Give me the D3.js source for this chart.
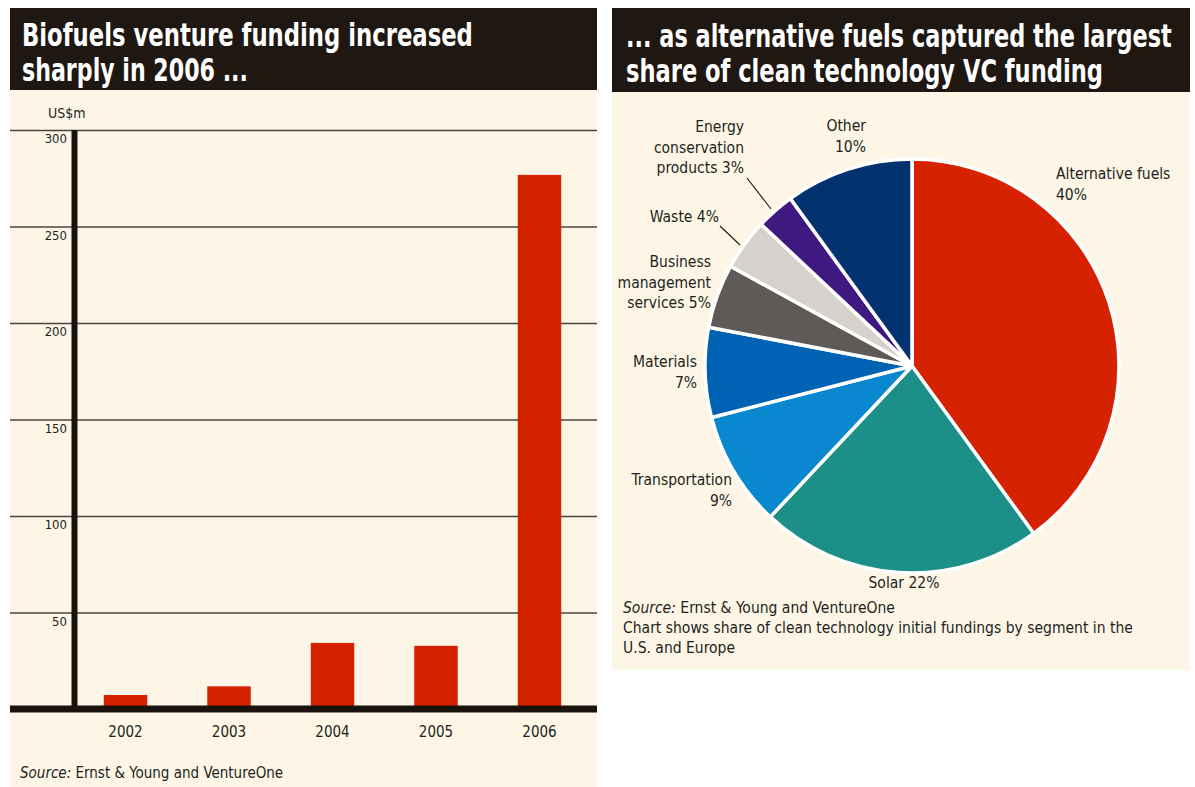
<!DOCTYPE html>
<html><head><meta charset="utf-8">
<script src="https://cdn.jsdelivr.net/npm/d3@7"></script>
<style>
html,body{margin:0;padding:0;background:#fff;}
svg{display:block;}
text{font-family:"Liberation Sans Narrow","DejaVu Sans Condensed","Arial Narrow",sans-serif;fill:#231f1c;}
</style></head>
<body>
<svg id="chart" width="1195" height="787"></svg>
<script>
// ---------- data ----------
const years = ["2002","2003","2004","2005","2006"];
const funding = [7.5, 12, 34.5, 33, 277];
const yTicks = [50, 100, 150, 200, 250, 300];

const segments = ["Alternative fuels","Solar","Transportation","Materials","Business management services","Waste","Energy conservation products","Other"];
const shares = [40, 22, 9, 7, 5, 4, 3, 10];
const segColors = ["#d62200","#1b8f88","#0a88cf","#0062b2","#5f5957","#d7d1cd","#3f1880","#033271"];

const leftTitle = ["Biofuels venture funding increased","sharply in 2006 ..."];
const rightTitle = ["... as alternative fuels captured the largest","share of clean technology VC funding"];

const svg = d3.select("#chart");
const cream = "#fdf6e7", dark = "#1f1712";

// fits a title line horizontally to a target width by scaling its group
function titleLine(text, x, yb, targetW){
  const g = svg.append("g");
  const t = g.append("text").attr("x",0).attr("y",0).text(text)
    .attr("font-size",32).attr("font-weight","bold").style("fill","#fff");
  const w = t.node().getComputedTextLength();
  const sx = Math.min(1, targetW / w);
  g.attr("transform",`translate(${x},${yb}) scale(${sx},1)`);
}

// ---------- left panel ----------
svg.append("rect").attr("x",10).attr("y",90).attr("width",587).attr("height",697).attr("fill",cream);
svg.append("rect").attr("x",10).attr("y",8).attr("width",587).attr("height",82).attr("fill",dark);
const ltw = [451, 226];
leftTitle.forEach((t,i)=> titleLine(t, 22, 46+i*35, ltw[i]));

const y = d3.scaleLinear().domain([0,300]).range([709.5,130.5]);
const x = d3.scaleBand().domain(years).range([73.75,591.25]).paddingInner(0.58).paddingOuter(0.29);

// gridlines
svg.append("g").selectAll("line").data(yTicks).join("line")
  .attr("x1",10).attr("x2",597).attr("y1",d=>y(d)).attr("y2",d=>y(d))
  .attr("stroke","#4a4541").attr("stroke-width",1.6);

// y axis labels via d3 axis
const yAxis = d3.axisLeft(y).tickValues(yTicks).tickSize(0).tickPadding(0);
const gy = svg.append("g").attr("transform","translate(67,0)").call(yAxis);
gy.select(".domain").remove();
gy.selectAll("text").attr("dy","12").attr("font-size",13).attr("text-anchor","end");

svg.append("text").attr("x",48).attr("y",118).attr("font-size",14).text("US$m");

// bars
svg.append("g").selectAll("rect").data(years).join("rect")
  .attr("x",d=>x(d)).attr("width",x.bandwidth())
  .attr("y",(d,i)=>y(funding[i])).attr("height",(d,i)=>y(0)-y(funding[i]))
  .attr("fill","#d62100");

// axis lines
svg.append("line").attr("x1",74.5).attr("x2",74.5).attr("y1",130).attr("y2",709).attr("stroke","#1a120d").attr("stroke-width",6);
svg.append("line").attr("x1",10).attr("x2",597).attr("y1",709).attr("y2",709).attr("stroke","#1a120d").attr("stroke-width",7);

// x axis labels
const xAxis = d3.axisBottom(x).tickSize(0).tickPadding(0);
const gx = svg.append("g").attr("transform","translate(0,737)").call(xAxis);
gx.select(".domain").remove();
gx.selectAll("text").attr("dy",0).attr("font-size",15);

const ls = svg.append("text").attr("x",20).attr("y",778).attr("font-size",15);
ls.append("tspan").attr("font-style","italic").text("Source:");
ls.append("tspan").text(" Ernst & Young and VentureOne");

// ---------- right panel ----------
svg.append("rect").attr("x",612).attr("y",92).attr("width",578).attr("height",578).attr("fill",cream);
svg.append("rect").attr("x",612).attr("y",8).attr("width",578).attr("height",84).attr("fill",dark);
const rtw = [546, 477];
rightTitle.forEach((t,i)=> titleLine(t, 626, 47+i*35, rtw[i]));

const cx = 912, cy = 366, R = 207;
const pie = d3.pie().sort(null).value(d=>d)(shares);
const arc = d3.arc().innerRadius(0).outerRadius(R);
svg.append("g").attr("transform",`translate(${cx},${cy})`)
  .selectAll("path").data(pie).join("path")
  .attr("d",arc).attr("fill",(d,i)=>segColors[i])
  .attr("stroke","#fff").attr("stroke-width",3.5).attr("stroke-linejoin","round");

// pie labels
const pieLabels = [
  {lines:["Alternative fuels","40%"], x:1056, y:179, anchor:"start"},
  {lines:["Solar 22%"], x:904, y:588, anchor:"middle"},
  {lines:["Transportation","9%"], x:732, y:485, anchor:"end"},
  {lines:["Materials","7%"], x:697, y:367, anchor:"end"},
  {lines:["Business","management","services 5%"], x:711, y:267, anchor:"end"},
  {lines:["Waste 4%"], x:719, y:222, anchor:"end"},
  {lines:["Energy","conservation","products 3%"], x:744, y:132, anchor:"end"},
  {lines:["Other","10%"], x:866, y:131, anchor:"end"}
];
pieLabels.forEach(l=>{
  const t = svg.append("text").attr("x",l.x).attr("y",l.y).attr("font-size",15.5).attr("text-anchor",l.anchor);
  l.lines.forEach((s,j)=>t.append("tspan").attr("x",l.x).attr("dy",j?20.5:0).text(s));
});
// leader lines
svg.append("line").attr("x1",747).attr("y1",178).attr("x2",771).attr("y2",209).attr("stroke","#231f1c").attr("stroke-width",1.2);
svg.append("line").attr("x1",720).attr("y1",226).attr("x2",740).attr("y2",245).attr("stroke","#231f1c").attr("stroke-width",1.2);

const rs = svg.append("text").attr("x",623).attr("y",613).attr("font-size",15.5);
rs.append("tspan").attr("font-style","italic").text("Source:");
rs.append("tspan").text(" Ernst & Young and VentureOne");
svg.append("text").attr("x",623).attr("y",633).attr("font-size",15.5).text("Chart shows share of clean technology initial fundings by segment in the");
svg.append("text").attr("x",623).attr("y",653).attr("font-size",15.5).text("U.S. and Europe");
</script>
</body></html>
